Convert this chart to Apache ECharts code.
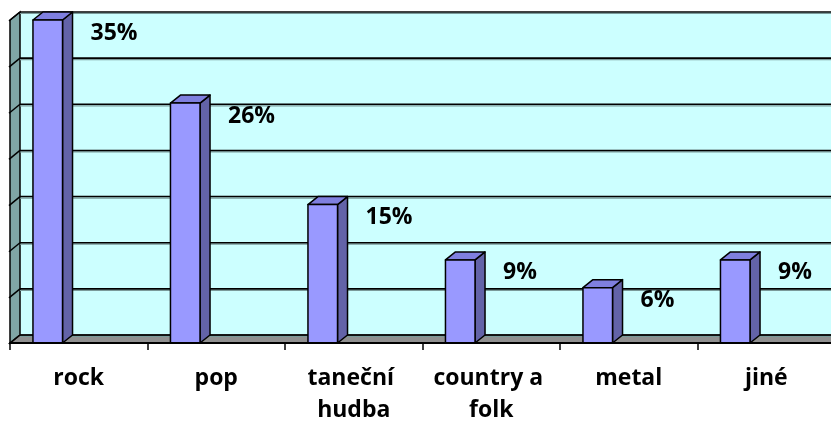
<!DOCTYPE html>
<html>
<head>
<meta charset="utf-8">
<script src="https://cdn.jsdelivr.net/npm/echarts@6/dist/echarts.min.js"></script>
<style>
  html, body { margin: 0; padding: 0; background: #fff; }
  #main { width: 831px; height: 421px; }
</style>
</head>
<body>
<div id="main"></div>
<script>
  var categories = ['rock', 'pop', 'taneční hudba', 'country a folk', 'metal', 'jiné'];
  var values = [35, 26, 15, 9, 6, 9];
  var yTicks = [0, 5, 10, 15, 20, 25, 30, 35];

  // 3D depth offset of the back wall
  var DX = 10, DY = -8;
  var FONT = '"Open Sans", "Noto Sans", sans-serif';

  function renderWalls(params, api) {
    var cs = params.coordSys;
    var l = cs.x, r = cs.x + cs.width, t = cs.y, b = cs.y + cs.height;
    var kids = [
      // back wall
      { type: 'rect', shape: { x: l + DX, y: t + DY, width: r - l, height: b - t },
        style: { fill: '#CCFFFF' } },
      // left wall
      { type: 'polygon', shape: { points: [[l, t], [l + DX, t + DY], [l + DX, b + DY], [l, b]] },
        style: { fill: '#80A6A6', stroke: '#000', lineWidth: 1.5 } },
      // floor
      { type: 'polygon', shape: { points: [[l, b], [l + DX, b + DY], [r + DX, b + DY], [r, b]] },
        style: { fill: '#909090', stroke: '#333', lineWidth: 1.5 } }
    ];
    yTicks.forEach(function (v) {
      var y = api.coord([0, v])[1];
      kids.push({ type: 'line', shape: { x1: l + DX, y1: y + DY + 1.5, x2: r + DX, y2: y + DY + 1.5 },
        style: { stroke: '#7a9a9a', lineWidth: 1.2 } });
      kids.push({ type: 'line', shape: { x1: l + DX, y1: y + DY, x2: r + DX, y2: y + DY },
        style: { stroke: '#000', lineWidth: 1.6 } });
      kids.push({ type: 'line', shape: { x1: l - 1, y1: y + 1, x2: l + DX, y2: y + DY },
        style: { stroke: '#000', lineWidth: 1.5 } });
    });
    return { type: 'group', children: kids };
  }

  function renderBar(params, api) {
    var top = api.coord([api.value(0), api.value(1)]);
    var base = api.coord([api.value(0), 0]);
    var band = api.size([1, 0])[0];
    var x0 = top[0] - band * 0.333;
    var x1 = x0 + band * 0.215;
    var yt = top[1], yb = base[1];
    var edge = { stroke: '#000', lineWidth: 1.5, lineJoin: 'round' };
    return {
      type: 'group',
      children: [
        { type: 'polygon', shape: { points: [[x1, yt], [x1 + DX, yt + DY], [x1 + DX, yb + DY], [x1, yb]] },
          style: Object.assign({ fill: '#6363A8' }, edge) },
        { type: 'polygon', shape: { points: [[x0, yt], [x0 + DX, yt + DY], [x1 + DX, yt + DY], [x1, yt]] },
          style: Object.assign({ fill: '#7F7FDF' }, edge) },
        { type: 'rect', shape: { x: x0, y: yt, width: x1 - x0, height: yb - yt },
          style: Object.assign({ fill: '#9999FF' }, edge) },
        { type: 'text', style: { text: api.value(1) + '%', x: x1 + 28, y: yt + 13,
          verticalAlign: 'middle', align: 'left', fill: '#000',
          fontSize: 23, fontWeight: 'bold', fontFamily: FONT } }
      ]
    };
  }

  var chart = echarts.init(document.getElementById('main'));
  chart.setOption({
    animation: false,
    backgroundColor: '#fff',
    grid: { left: 10, top: 20, width: 825, height: 323, outerBoundsMode: 'none', containLabel: false },
    xAxis: {
      type: 'category',
      data: categories,
      z: 10,
      axisLine: { lineStyle: { color: '#000', width: 2 } },
      axisTick: { show: true, length: 7, lineStyle: { color: '#000', width: 1.5 } },
      axisLabel: {
        interval: 0, margin: 19, color: '#000',
        fontSize: 23, fontWeight: 'bold', fontFamily: FONT,
        lineHeight: 32, width: 124, overflow: 'break'
      }
    },
    yAxis: { type: 'value', min: 0, max: 35, interval: 5, show: false },
    series: [
      { type: 'custom', silent: true, clip: false, z: 1, data: [[0, 0]], renderItem: renderWalls },
      { type: 'custom', silent: true, clip: false, z: 3,
        data: values.map(function (v, i) { return [i, v]; }),
        encode: { x: 0, y: 1 }, renderItem: renderBar }
    ]
  });
</script>
</body>
</html>
